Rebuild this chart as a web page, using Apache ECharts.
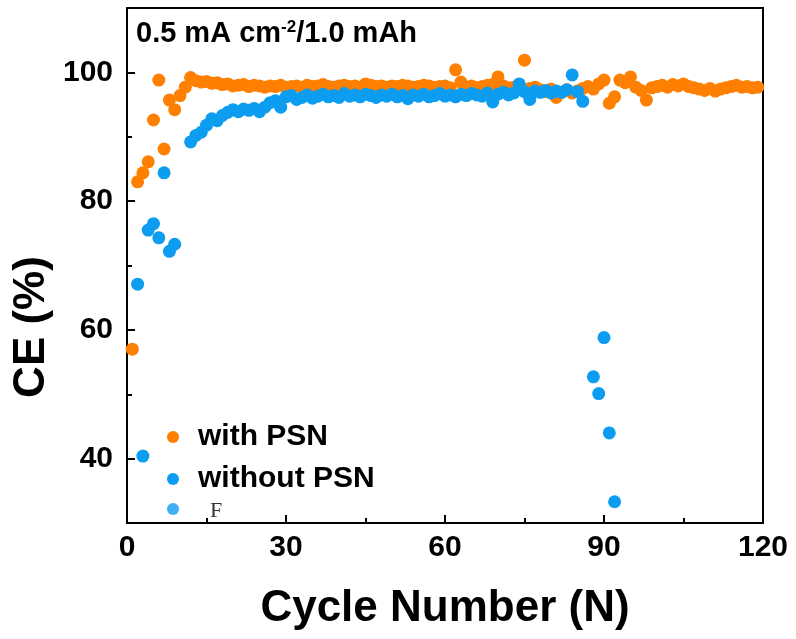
<!DOCTYPE html>
<html>
<head>
<meta charset="utf-8">
<script src="https://cdn.jsdelivr.net/npm/echarts@6/dist/echarts.min.js"></script>
<style>
html,body{margin:0;padding:0;background:#fff;}
#chart{width:796px;height:639px;}
</style>
</head>
<body>
<div id="chart"></div>
<script>
// Data (cycle number = index + 1)
const orangeCE = [
  57.0, 83.0, 84.4, 86.1, 92.6, 98.8, 88.1, 95.7, 94.2, 96.4,
  97.7, 99.2, 98.7, 98.5, 98.6, 98.3, 98.4, 98.1, 98.2, 97.9,
  98.0, 98.1, 97.8, 98.0, 97.9, 97.7, 97.9, 97.8, 98.0, 97.7,
  97.8, 97.9, 97.7, 98.0, 97.8, 97.9, 98.1, 97.8, 97.7, 97.9,
  98.0, 97.8, 97.9, 97.7, 98.2, 98.0, 97.8, 97.9, 97.7, 97.9,
  97.8, 98.0, 97.9, 97.7, 97.8, 98.0, 97.9, 97.7, 97.8, 97.9,
  97.6, 100.4, 98.5, 97.7, 97.9, 97.6, 97.8, 98.0, 98.1, 99.3,
  97.9, 97.6, 97.7, 98.0, 101.9, 97.5, 97.7, 97.3, 97.0, 97.4,
  96.1, 96.9, 97.3, 96.8, 97.1, 97.5, 97.8,
  97.4, 98.2, 98.8, 95.2, 96.2, 98.8, 98.4, 99.3, 97.7, 97.2,
  95.7, 97.6, 97.8, 98.0, 97.7, 98.1, 97.9, 98.2, 97.8, 97.6,
  97.4, 97.2, 97.5, 97.1, 97.4, 97.6, 97.8, 98.0, 97.7, 97.8,
  97.6, 97.7
];
const blueCE = [
  null, 67.1, 40.4, 75.5, 76.5, 74.3, 84.4, 72.2, 73.3, null,
  null, 89.2, 90.2, 90.7, 91.8, 92.8, 92.5, 93.3, 93.8, 94.2,
  93.9, 94.3, 94.1, 94.4, 93.9, 94.6, 95.3, 95.6, 94.6, 96.2,
  96.4, 95.8, 96.1, 96.5, 96.0, 96.3, 96.6, 96.2, 96.4, 96.1,
  96.7, 96.3, 96.5, 96.2, 96.6, 96.4, 96.1, 96.5, 96.3, 96.6,
  96.2, 96.4, 95.9, 96.5, 96.3, 96.6, 96.2, 96.4, 96.7, 96.3,
  96.5, 96.2, 96.6, 96.4, 96.7, 96.5, 96.3, 96.8, 95.4, 96.6,
  96.9, 96.5, 96.8, 98.2, 97.0, 95.8, 97.1, 96.9, 97.2, 96.8,
  97.1, 96.9, 97.3, 99.6, 97.0, 95.5, null, 52.7, 50.1, 58.8,
  44.0, 33.3
];
const seriesNames = ['with PSN', 'without PSN', 'F'];
const xTicks = [0, 30, 60, 90, 120];
const yMajorTicks = [40, 60, 80, 100];
const yMinorTicks = [50, 70, 90];
const annotation = ['0.5 mA cm', '-2', '/1.0 mAh'];

const ORANGE = '#FF7F00';
const BLUE = '#0C9DF0';
const FONT = "'Liberation Sans', Arial, sans-serif";

const toPairs = arr => arr.map((v, i) => v == null ? null : [i + 1, v]).filter(p => p);

const chart = echarts.init(document.getElementById('chart'), null, {renderer: 'canvas'});
chart.setOption({
  animation: false,
  backgroundColor: '#fff',
  grid: {left: 127, right: 33, top: 8, bottom: 116, show: true, borderColor: '#000', borderWidth: 2, backgroundColor: 'transparent'},
  xAxis: {
    type: 'value', min: xTicks[0], max: xTicks[xTicks.length - 1], interval: 30,
    axisLine: {lineStyle: {color: '#000', width: 2}},
    axisTick: {inside: true, length: 8, lineStyle: {color: '#000', width: 2}},
    minorTick: {show: true, splitNumber: 2, length: 5, lineStyle: {color: '#000', width: 2}},
    splitLine: {show: false},
    axisLabel: {fontSize: 30, fontWeight: 'bold', color: '#000', fontFamily: FONT, margin: 10},
    name: 'Cycle Number (N)', nameLocation: 'middle', nameGap: 64,
    nameTextStyle: {fontSize: 44, fontWeight: 'bold', color: '#000', fontFamily: FONT}
  },
  yAxis: [{
    type: 'value', min: 30, max: 110,
    axisLine: {lineStyle: {color: '#000', width: 2}},
    axisTick: {inside: true, length: 8, customValues: yMajorTicks, lineStyle: {color: '#000', width: 2}},
    splitLine: {show: false},
    axisLabel: {customValues: yMajorTicks, fontSize: 30, fontWeight: 'bold', color: '#000', fontFamily: FONT, margin: 14, padding: [0, 0, 10, 0]}
  }, {
    type: 'value', min: 30, max: 110, position: 'left',
    axisLine: {show: false},
    axisTick: {show: true, inside: true, length: 5, customValues: yMinorTicks, lineStyle: {color: '#000', width: 2}},
    splitLine: {show: false},
    axisLabel: {show: false}
  }],
  legend: [{
    data: seriesNames.slice(0, 2), orient: 'vertical', left: 167, top: 422, itemGap: 12, padding: 0,
    itemWidth: 12, itemHeight: 12, icon: 'circle', selectedMode: false,
    formatter: name => '{b|' + name + '}',
    textStyle: {
      color: '#000',
      rich: {
        b: {fontSize: 30, fontWeight: 'bold', fontFamily: FONT, color: '#000', lineHeight: 30, padding: [0, 0, 0, 14]}
      }
    }
  }, {
    data: seriesNames.slice(2), orient: 'vertical', left: 167, top: 496, padding: 0,
    itemWidth: 12, itemHeight: 12, icon: 'circle', selectedMode: false,
    formatter: name => '{f|' + name + '}',
    textStyle: {
      color: '#333',
      rich: {
        f: {fontSize: 22, fontFamily: "'Liberation Serif', 'Times New Roman', serif", color: '#333', lineHeight: 22, padding: [4, 0, 0, 26]}
      }
    }
  }],
  graphic: [{
    type: 'text', left: 136, top: 19,
    style: {
      text: '{a|' + annotation[0] + '}{s|' + annotation[1] + '}{a|' + annotation[2] + '}',
      rich: {
        a: {fontSize: 29, fontWeight: 'bold', fontFamily: FONT, fill: '#000', lineHeight: 29},
        s: {fontSize: 17, fontWeight: 'bold', fontFamily: FONT, fill: '#000', lineHeight: 14, verticalAlign: 'top'}
      }
    }
  }, {
    type: 'text', x: 32, y: 327, rotation: Math.PI / 2,
    style: {text: 'CE (%)', fontSize: 44, fontWeight: 'bold', fontFamily: FONT, fill: '#000', align: 'center', verticalAlign: 'middle'}
  }],
  series: [{
    name: seriesNames[0], type: 'scatter', symbol: 'circle', symbolSize: 13,
    itemStyle: {color: ORANGE, opacity: 1}, data: toPairs(orangeCE)
  }, {
    name: seriesNames[1], type: 'scatter', symbol: 'circle', symbolSize: 13,
    itemStyle: {color: BLUE, opacity: 1}, data: toPairs(blueCE)
  }, {
    name: seriesNames[2], type: 'scatter', symbol: 'circle', symbolSize: 13,
    itemStyle: {color: BLUE}, data: []
  }]
});
</script>
</body>
</html>
